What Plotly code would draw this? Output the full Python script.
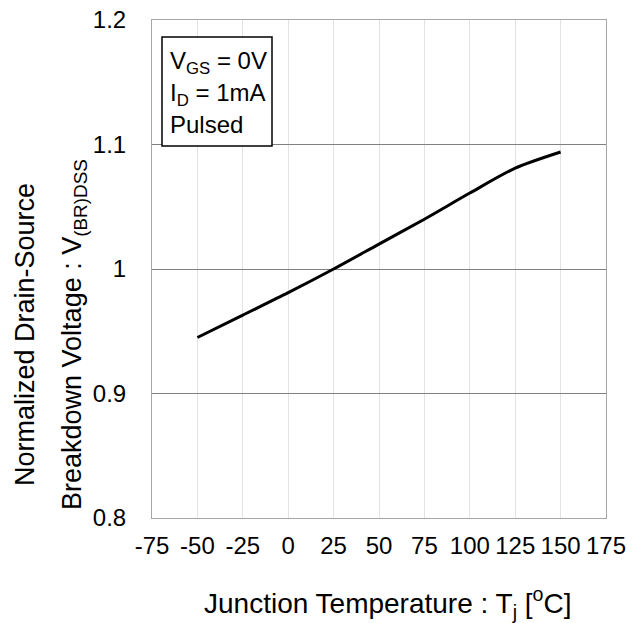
import plotly.graph_objects as go

# Data
temperature_c = [-50, -25, 0, 25, 50, 75, 100, 125, 150]
normalized_bvdss = [0.945, 0.963, 0.981, 1.000, 1.020, 1.040, 1.061, 1.081, 1.094]

x_ticks = [-75, -50, -25, 0, 25, 50, 75, 100, 125, 150, 175]
y_ticks = [0.8, 0.9, 1.0, 1.1, 1.2]
y_tick_labels = ["0.8", "0.9", "1", "1.1", "1.2"]

W, H = 639, 623
L, R, T, B = 152, 33, 20, 105
PW, PH = W - L - R, H - T - B


def px(x):
    return (x - L) / PW


def py(y):
    return (H - B - y) / PH


FONT = "Liberation Sans, Arial, sans-serif"

fig = go.Figure()
fig.add_trace(go.Scatter(
    x=temperature_c, y=normalized_bvdss, mode="lines",
    line=dict(color="black", width=3, shape="spline", smoothing=0.8),
    showlegend=False, hoverinfo="skip",
))

fig.update_layout(
    width=W, height=H,
    margin=dict(l=L, r=R, t=T, b=B, autoexpand=False),
    paper_bgcolor="white", plot_bgcolor="white",
    font=dict(family=FONT, color="black", size=24),
    xaxis=dict(
        range=[-75, 175], tickvals=x_ticks, ticktext=[str(v) for v in x_ticks],
        showgrid=True, gridcolor="#e3e3e3", gridwidth=1,
        showline=True, linecolor="#a6a6a6", linewidth=1, mirror=True,
        ticks="outside", ticklen=6, tickcolor="rgba(0,0,0,0)",
        tickfont=dict(size=24, family=FONT), zeroline=False, automargin=False,
    ),
    yaxis=dict(
        range=[0.8, 1.2], tickvals=y_ticks, ticktext=y_tick_labels,
        showgrid=True, gridcolor="#808080", gridwidth=1,
        showline=True, linecolor="#a6a6a6", linewidth=1, mirror=True,
        ticks="outside", ticklen=20, tickcolor="rgba(0,0,0,0)",
        tickfont=dict(size=24, family=FONT), zeroline=False, automargin=False,
    ),
)

# Condition box
fig.add_shape(type="rect", xref="paper", yref="paper",
              x0=px(162), x1=px(272), y0=py(146), y1=py(37),
              line=dict(color="black", width=1.5), fillcolor="white")

box_lines = [
    ("V<sub>GS</sub> = 0V", 63),
    ("I<sub>D</sub> = 1mA", 95),
    ("Pulsed", 124),
]
for txt, yc in box_lines:
    fig.add_annotation(text=txt, xref="paper", yref="paper",
                       x=px(168), y=py(yc), xanchor="left", yanchor="middle",
                       showarrow=False, font=dict(size=24, family=FONT))

# Axis titles
fig.add_annotation(text="Junction Temperature : T<sub>j</sub> [<sup>o</sup>C]",
                   xref="paper", yref="paper", x=px(388), y=py(603),
                   xanchor="center", yanchor="middle", showarrow=False,
                   font=dict(size=28, family=FONT))
fig.add_annotation(text="Normalized Drain-Source",
                   xref="paper", yref="paper", x=px(25), y=py(335),
                   xanchor="center", yanchor="middle", textangle=-90,
                   showarrow=False, font=dict(size=27, family=FONT))
fig.add_annotation(text="Breakdown Voltage : V<sub>(BR)DSS</sub>",
                   xref="paper", yref="paper", x=px(74), y=py(335),
                   xanchor="center", yanchor="middle", textangle=-90,
                   showarrow=False, font=dict(size=27, family=FONT))

fig.write_html("out.html", config={"displayModeBar": False},
               post_script="document.body.style.margin='0';document.body.style.padding='0';")
